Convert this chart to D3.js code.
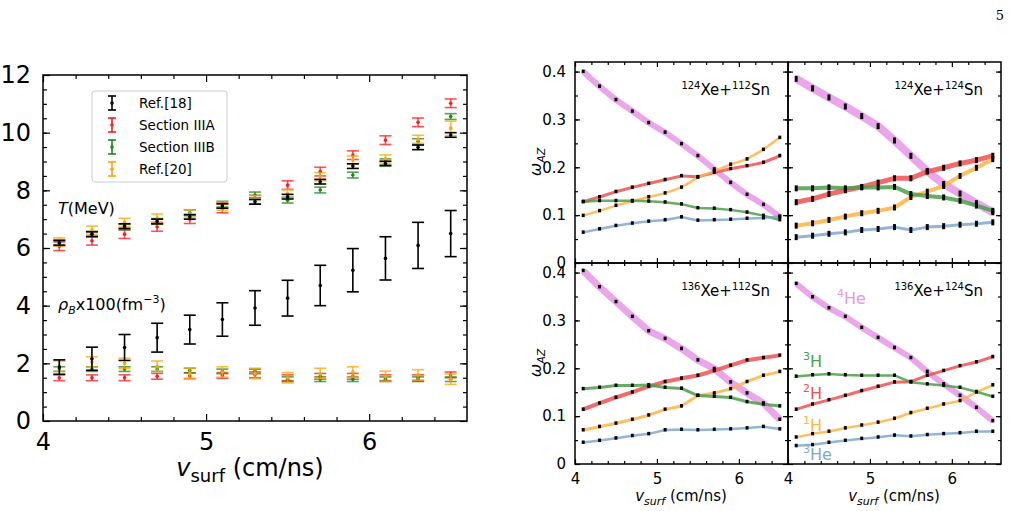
<!DOCTYPE html>
<html><head><meta charset="utf-8">
<script src="https://cdn.jsdelivr.net/npm/d3@7"></script>
<style>body{margin:0;background:#fff}text{font-family:"DejaVu Sans",sans-serif}</style>
</head><body>
<script>
// x positions shared by all series
var vsurf = [4.1,4.3,4.5,4.7,4.9,5.1,5.3,5.5,5.7,5.9,6.1,6.3,6.5];

// left panel: temperature and density
var tRef18 = [6.18,6.48,6.76,6.92,7.08,7.46,7.6,7.78,8.3,8.84,8.93,9.49,9.92];
var tIIIA  = [6.06,6.25,6.48,6.73,7.0,7.37,7.68,8.18,8.65,9.22,9.74,10.36,11.02];
var tIIIB  = [6.18,6.48,6.73,6.92,7.22,7.52,7.84,7.66,8.01,8.53,8.99,9.69,10.56];
var tRef20 = [6.21,6.62,6.89,7.04,7.18,7.45,7.68,7.89,8.47,9.05,9.09,9.77,10.15];
var rRef18 = [1.87,2.16,2.55,2.89,3.17,3.52,3.92,4.26,4.7,5.23,5.64,6.09,6.5];
var rRef18Err = [0.25,0.4,0.45,0.5,0.5,0.58,0.6,0.62,0.7,0.75,0.75,0.8,0.8];
var rIIIA  = [1.5,1.5,1.5,1.55,1.57,1.58,1.6,1.5,1.55,1.55,1.5,1.5,1.6];
var rIIIB  = [1.8,1.8,1.8,1.8,1.75,1.72,1.72,1.45,1.45,1.45,1.45,1.45,1.45];
var rRef20 = [1.9,2.05,2.0,1.9,1.65,1.7,1.65,1.5,1.65,1.7,1.55,1.6,1.45];

// right panels: mass fractions
var panelTitles = [["124","112"],["124","124"],["136","112"],["136","124"]];
var he4 = [
 [.40,.369,.341,.317,.293,.273,.249,.224,.196,.168,.143,.122,.097],
 [.385,.365,.346,.327,.307,.286,.256,.224,.192,.165,.145,.125,.106],
 [.404,.37,.339,.308,.278,.262,.241,.217,.199,.171,.148,.127,.093],
 [.377,.349,.326,.308,.285,.264,.243,.222,.193,.167,.143,.118,.09]];
var h2 = [
 [.128,.138,.149,.158,.166,.174,.182,.180,.189,.197,.203,.210,.224],
 [.127,.134,.144,.152,.159,.168,.177,.177,.191,.199,.208,.215,.224],
 [.114,.127,.139,.15,.162,.172,.179,.185,.195,.206,.217,.222,.227],
 [.114,.125,.134,.143,.153,.162,.171,.172,.185,.195,.205,.213,.224]];
var h1 = [
 [.099,.109,.12,.129,.138,.146,.158,.179,.192,.206,.217,.237,.262],
 [.078,.083,.09,.097,.104,.109,.116,.138,.149,.161,.182,.199,.217],
 [.071,.078,.085,.093,.102,.114,.121,.143,.148,.157,.172,.185,.193],
 [.056,.063,.068,.075,.081,.087,.095,.107,.116,.125,.132,.15,.165]];
var h3 = [
 [.128,.13,.13,.13,.129,.127,.123,.115,.114,.111,.106,.099,.09],
 [.156,.156,.158,.156,.158,.158,.159,.144,.14,.137,.13,.12,.109],
 [.157,.16,.164,.164,.165,.16,.158,.143,.141,.139,.13,.125,.121],
 [.183,.186,.188,.186,.185,.185,.185,.171,.167,.164,.16,.151,.141]];
var he3 = [
 [.064,.071,.078,.083,.087,.09,.096,.089,.09,.091,.093,.094,.097],
 [.054,.057,.061,.064,.069,.071,.075,.069,.075,.077,.08,.082,.085],
 [.045,.049,.054,.059,.063,.071,.072,.071,.072,.073,.075,.078,.073],
 [.038,.04,.045,.049,.053,.056,.06,.058,.061,.063,.065,.068,.068]];

var svg = d3.select("body").append("svg").attr("width",1012).attr("height",511);
svg.append("text").attr("x",1004).attr("y",20).attr("text-anchor","end")
   .style("font-family","DejaVu Serif").style("font-size","13px").text("5");

// inward ticks on all four sides
function frame(g, x, y, xt, xm, yt, ym, fs, showX, showY, yfmt){
  var w = x.range()[1]-x.range()[0], h = y.range()[0]-y.range()[1];
  var x0 = x.range()[0], y0 = y.range()[1];
  function ax(axis, tr, vals, size, labels, fmt){
    var a = g.append("g").attr("transform",tr)
      .call(axis.tickValues(vals).tickSize(-size).tickPadding(size+(fs>20?5:4))
        .tickFormat(labels?fmt:function(){return "";}));
    a.select(".domain").remove();
    a.selectAll("line").attr("stroke","#000").attr("stroke-width",1.2);
    a.selectAll("text").style("font-size",fs+"px").attr("fill","#000");
    return a;
  }
  var big = fs>20?7:5, small = fs>20?4:3;
  ax(d3.axisBottom(x),"translate(0,"+(y0+h)+")",xt,big,showX,d3.format("d"));
  ax(d3.axisBottom(x),"translate(0,"+(y0+h)+")",xm,small,false);
  ax(d3.axisTop(x),"translate(0,"+y0+")",xt,big,false);
  ax(d3.axisTop(x),"translate(0,"+y0+")",xm,small,false);
  ax(d3.axisLeft(y),"translate("+x0+",0)",yt,big,showY,yfmt);
  ax(d3.axisLeft(y),"translate("+x0+",0)",ym,small,false);
  ax(d3.axisRight(y),"translate("+(x0+w)+",0)",yt,big,false);
  ax(d3.axisRight(y),"translate("+(x0+w)+",0)",ym,small,false);
  g.append("rect").attr("x",x0).attr("y",y0).attr("width",w).attr("height",h)
   .attr("fill","none").attr("stroke","#000").attr("stroke-width",1.5);
}
var xMinor = d3.range(4.2,6.6,0.2).filter(function(v){return Math.abs(v-5)>.01&&Math.abs(v-6)>.01;});

// ---------- left panel ----------
var xL = d3.scaleLinear().domain([4,6.6]).range([43,467]);
var yL = d3.scaleLinear().domain([0,12]).range([421,75]);
var gL = svg.append("g");
frame(gL,xL,yL,[4,5,6],xMinor,[0,2,4,6,8,10,12],d3.range(0.5,12,0.5),24,true,true,d3.format("d"));

var eb = [
 {name:"Ref.[18]", c:"#000", t:tRef18, te:tRef18.map(function(){return 0.08;}), r:rRef18, re:rRef18Err},
 {name:"Section IIIA", c:"#ff1a1a", t:tIIIA, te:tIIIA.map(function(){return 0.15;}), r:rIIIA, re:rIIIA.map(function(){return 0.1;})},
 {name:"Section IIIB", c:"#1a8a1a", t:tIIIB, te:tIIIB.map(function(){return 0.1;}), r:rIIIB, re:rIIIB.map(function(){return 0.08;})},
 {name:"Ref.[20]", c:"#ffa500", t:tRef20, te:tRef20.map(function(v,i){return i>11?0.25:0.14;}), r:rRef20, re:rRef20.map(function(){return 0.18;})}
];
function drawEB(g,c,vals,errs,op){
  vsurf.forEach(function(v,i){
    var cx=xL(v), y1=yL(vals[i]-errs[i]), y2=yL(vals[i]+errs[i]);
    g.append("line").attr("x1",cx).attr("x2",cx).attr("y1",y1).attr("y2",y2).attr("stroke",c).attr("stroke-width",1.6).attr("opacity",op);
    [y1,y2].forEach(function(yy){g.append("line").attr("x1",cx-6).attr("x2",cx+6).attr("y1",yy).attr("y2",yy).attr("stroke",c).attr("stroke-width",1.6).attr("opacity",op);});
    g.append("circle").attr("cx",cx).attr("cy",yL(vals[i])).attr("r",1.8).attr("fill",c);
  });
}
[eb[1],eb[2],eb[3],eb[0]].forEach(function(s){
  var op = s.c=="#000"?1:0.75;
  drawEB(gL,s.c,s.t,s.te,op);
  drawEB(gL,s.c,s.r,s.re,op);
});
gL.append("rect").attr("x",92).attr("y",91).attr("width",135).attr("height",91).attr("rx",3)
  .attr("fill","#fff").attr("stroke","#ccc");
eb.forEach(function(s,i){
  var ly=103+i*22, cx=112;
  gL.append("line").attr("x1",cx).attr("x2",cx).attr("y1",ly-7).attr("y2",ly+7).attr("stroke",s.c).attr("stroke-width",1.6);
  [ly-7,ly+7].forEach(function(yy){gL.append("line").attr("x1",cx-4).attr("x2",cx+4).attr("y1",yy).attr("y2",yy).attr("stroke",s.c).attr("stroke-width",1.6);});
  gL.append("circle").attr("cx",cx).attr("cy",ly).attr("r",1.8).attr("fill",s.c);
  gL.append("text").attr("x",139).attr("y",ly+5).style("font-size","13.5px").text(s.name);
});
var tl = gL.append("text").attr("x",58).attr("y",214).style("font-size","16px");
tl.append("tspan").style("font-style","italic").text("T");
tl.append("tspan").text("(MeV)");
var rl = gL.append("text").attr("x",58).attr("y",310).style("font-size","16px");
rl.append("tspan").style("font-style","italic").text("ρ");
rl.append("tspan").style("font-style","italic").style("font-size","11px").attr("dy",4).text("B");
rl.append("tspan").attr("dy",-4).text("x100(fm");
rl.append("tspan").style("font-size","11px").attr("dy",-7).text("−3");
rl.append("tspan").attr("dy",7).text(")");
var xlab = gL.append("text").attr("x",250).attr("y",476).attr("text-anchor","middle").style("font-size","24px");
xlab.append("tspan").style("font-style","italic").text("v");
xlab.append("tspan").style("font-size","18px").attr("dy",6).text("surf");
xlab.append("tspan").attr("dy",-6).text(" (cm/ns)");

// ---------- right panels ----------
var species = [
 {d:he4, c:"#e896e8", w:[6,8,7,6], lab:"4", el:"He", pos:[837,304]},
 {d:h2,  c:"#f2504f", w:[3,5,4,3], lab:"2", el:"H", pos:[803,399]},
 {d:h1,  c:"#ffb444", w:[2.5,4,3,2.5], lab:"1", el:"H", pos:[803,431]},
 {d:h3,  c:"#49a046", w:[2.5,4,3,2.5], lab:"3", el:"H", pos:[803,367]},
 {d:he3, c:"#7ea8d2", w:[2.5,3,2.5,2.5], lab:"3", el:"He", pos:[803,460]}
];
[[575,62],[788,62],[575,263],[788,263]].forEach(function(p,k){
  var x = d3.scaleLinear().domain([4,6.6]).range([p[0],p[0]+213]);
  var y = d3.scaleLinear().domain([0,0.42]).range([p[1]+201,p[1]]);
  var g = svg.append("g");
  frame(g,x,y,[4,5,6],xMinor,[0,0.1,0.2,0.3,0.4],d3.range(0.05,0.42,0.05),15,k>1,k%2==0,
        function(d){return d==0?"0":d3.format(".1f")(d);});
  var line = d3.line().x(function(d,i){return x(vsurf[i]);}).y(function(d){return y(d);});
  species.forEach(function(s){
    g.append("path").attr("d",line(s.d[k])).attr("fill","none").attr("stroke",s.c)
     .attr("stroke-width",s.w[k]).attr("stroke-opacity",0.85).attr("stroke-linejoin","round");
  });
  species.forEach(function(s){
    g.selectAll(null).data(s.d[k]).enter().append("rect")
     .attr("x",function(d,i){return x(vsurf[i])-1.5;}).attr("y",function(d){return y(d)-(k==1?3:2);})
     .attr("width",3).attr("height",k==1?6:3.5).attr("fill","#000");
  });
  var tt = g.append("text").attr("x",p[0]+195).attr("y",p[1]+33).attr("text-anchor","end").style("font-size","15px");
  tt.append("tspan").style("font-size","10px").attr("dy",-6).text(panelTitles[k][0]);
  tt.append("tspan").attr("dy",6).text("Xe+");
  tt.append("tspan").style("font-size","10px").attr("dy",-6).text(panelTitles[k][1]);
  tt.append("tspan").attr("dy",6).text("Sn");
  if(k%2==0){
    var yl = g.append("text").attr("transform","translate("+(p[0]-34)+","+(p[1]+100)+") rotate(-90)")
      .attr("text-anchor","middle").style("font-size","16px");
    yl.append("tspan").style("font-style","italic").text("ω");
    yl.append("tspan").style("font-style","italic").style("font-size","11px").attr("dy",4).text("AZ");
  }
  if(k>1){
    var xl = g.append("text").attr("x",p[0]+106).attr("y",501).attr("text-anchor","middle").style("font-size","15px");
    xl.append("tspan").style("font-style","italic").text("v");
    xl.append("tspan").style("font-style","italic").style("font-size","11px").attr("dy",4).text("surf");
    xl.append("tspan").attr("dy",-4).text(" (cm/ns)");
  }
  if(k==3){
    species.forEach(function(s){
      var lt = g.append("text").attr("x",s.pos[0]).attr("y",s.pos[1]).attr("fill",s.c).style("font-size","16px");
      lt.append("tspan").style("font-size","11px").attr("dy",-7).text(s.lab);
      lt.append("tspan").attr("dy",7).text(s.el);
    });
  }
});
</script>
</body></html>
